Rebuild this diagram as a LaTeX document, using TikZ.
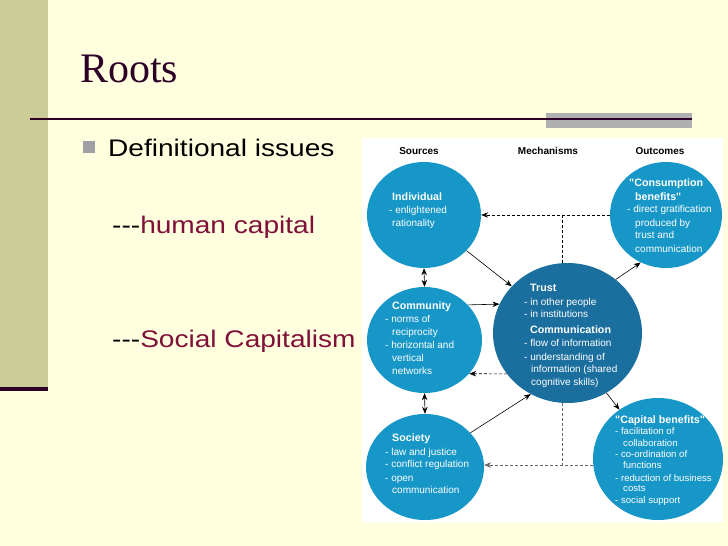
\documentclass[tikz,border=0pt]{standalone}
\usepackage{fontspec}
\setmainfont{Liberation Serif}
\newfontfamily\arial{Liberation Sans}
\newfontfamily\arialwide[FakeStretch=1.17]{Liberation Sans}
\usetikzlibrary{shapes.geometric,arrows.meta}
\definecolor{pagebg}{RGB}{255,255,224}
\definecolor{barcol}{RGB}{204,204,153}
\definecolor{darkpurple}{RGB}{45,0,40}
\definecolor{rulegray}{RGB}{176,176,176}
\definecolor{bulletgray}{RGB}{160,160,164}
\definecolor{maroon}{RGB}{128,16,56}
\definecolor{lightblue}{RGB}{23,151,200}
\definecolor{darkblue}{RGB}{27,111,159}
\newcommand\tline[4][]{\node[ct,#1] (#2) at (#3) {#4};}
\tikzset{
  ct/.style={anchor=base west, inner sep=0pt, text=white, font=\arial\fontsize{10}{12}\selectfont},
  cb/.style={font=\arial\bfseries\fontsize{10.7}{12}\selectfont},
  cs/.style={font=\arial\fontsize{9.6}{12}\selectfont},
  hdr/.style={inner sep=0pt, text=black, font=\arial\bfseries\fontsize{10}{12}\selectfont},
  blob/.style={ellipse, inner sep=0pt, draw=none, fill=lightblue},
  tip/.tip={Stealth[length=7pt,width=5.5pt]},
  arr/.style={draw=black, line width=0.6pt, -tip},
  darr/.style={draw=black, line width=0.6pt, tip-tip},
  dsh/.style={draw=black, line width=0.6pt, dash pattern=on 3pt off 2pt},
  dshg/.style={draw=black!60, line width=0.6pt, dash pattern=on 3pt off 2pt},
  big/.style={anchor=base west, inner sep=0pt, font=\arialwide\fontsize{24}{28}\selectfont}
}
\begin{document}
\begin{tikzpicture}[x=1pt,y=-1pt]
% page
\fill[pagebg] (0,0) rectangle (728,546);
\useasboundingbox (0,0) rectangle (728,546);
\fill[barcol] (0,0) rectangle (48,387);
\fill[darkpurple] (0,387) rectangle (48,390.5);
% title
\node[anchor=base west, inner sep=0pt, text=darkpurple, font=\fontsize{42}{46}\selectfont] (title) at (80,82) {Roots};
\fill[rulegray] (546,113) rectangle (692,128);
\draw[darkpurple, line width=2.2pt] (30,119) -- (692,119);
% bullet text
\fill[bulletgray] (83,141) rectangle (95,153);
\node[big] (def) at (108,156) {Definitional issues};
\node[big] (hc) at (112,233) {---\textcolor{maroon}{human capital}};
\node[big] (sc) at (112,347) {---\textcolor{maroon}{Social Capitalism}};
% diagram panel
\fill[white] (362,138) rectangle (723,522);
\node[hdr] (hsrc) at (419,151) {Sources};
\node[hdr] (hmech) at (548,151) {Mechanisms};
\node[hdr] (hout) at (660,151) {Outcomes};
% circles
\node[blob, minimum width=114pt, minimum height=106pt] (ind) at (424,215) {};
\node[blob, minimum width=112pt, minimum height=106pt] (cons) at (666,215) {};
\node[blob, minimum width=115pt, minimum height=106pt] (comm) at (424.5,340) {};
\node[blob, fill=darkblue, minimum width=149pt, minimum height=140pt] (trust) at (567.5,333) {};
\node[blob, minimum width=118pt, minimum height=106pt] (soc) at (425,467) {};
\node[blob, minimum width=130pt, minimum height=122pt] (cap) at (658,459) {};
% connectors
\coordinate (j1) at (562,215);
\coordinate (j2) at (562,465);
\draw[dsh, -tip] (cons.west) -- (ind.east);
\draw[dsh] (j1) -- (j1 |- trust.north);
\draw[dsh, -tip] (trust.214) -- (comm.323.5);
\draw[dshg] (j2 |- trust.south) -- (j2);
\draw[dshg, -tip] (j2 -| cap.west) -- (j2 -| soc.east);
\draw[arr] (ind.-40) -- (trust.140);
\draw[arr] (trust.48) -- (cons.242);
\draw[arr] (comm.39) -- (trust.157);
\draw[arr] (soc.37) -- (trust.239);
\draw[arr] (trust.303) -- (cap.128);
\draw[darr] (ind.south) -- (comm.north);
\draw[darr] (comm.south) -- (soc.north);
% texts: Individual
\tline[cb]{i1}{392,200}{Individual}
\tline{i2}{389,213}{- enlightened}
\tline{i3}{392,226}{rationality}
% Consumption benefits
\tline[cb]{c1}{629,186}{"Consumption}
\tline[cb]{c2}{635,200}{benefits"}
\tline{c3}{627,212}{- direct gratification}
\tline{c4}{635,226}{produced by}
\tline{c5}{635,238}{trust and}
\tline{c6}{635,252}{communication}
% Trust
\tline[cb]{t1}{530,291}{Trust}
\tline{t2}{524,305}{- in other people}
\tline{t3}{524,317}{- in institutions}
\tline[cb]{t4}{530,333}{Communication}
\tline{t5}{524,346}{- flow of information}
\tline{t6}{524,360}{- understanding of}
\tline{t7}{531,372}{information (shared}
\tline{t8}{531,385}{cognitive skills)}
% Community
\tline[cb]{m1}{392,309}{Community}
\tline{m2}{385,322}{- norms of}
\tline{m3}{392,335}{reciprocity}
\tline{m4}{385,348}{- horizontal and}
\tline{m5}{392,361}{vertical}
\tline{m6}{392,374}{networks}
% Society
\tline[cb]{s1}{392,441}{Society}
\tline{s2}{385,455}{- law and justice}
\tline{s3}{385,467}{- conflict regulation}
\tline{s4}{385,481}{- open}
\tline{s5}{392,493}{communication}
% Capital benefits
\tline[cb]{k1}{615,423}{"Capital benefits"}
\tline[cs]{k2}{615,434}{- facilitation of}
\tline[cs]{k3}{623,446}{collaboration}
\tline[cs]{k4}{615,457}{- co-ordination of}
\tline[cs]{k5}{623,468}{functions}
\tline[cs]{k6}{615,481}{- reduction of business}
\tline[cs]{k7}{623,491}{costs}
\tline[cs]{k8}{615,503}{- social support}
\end{tikzpicture}
\end{document}
